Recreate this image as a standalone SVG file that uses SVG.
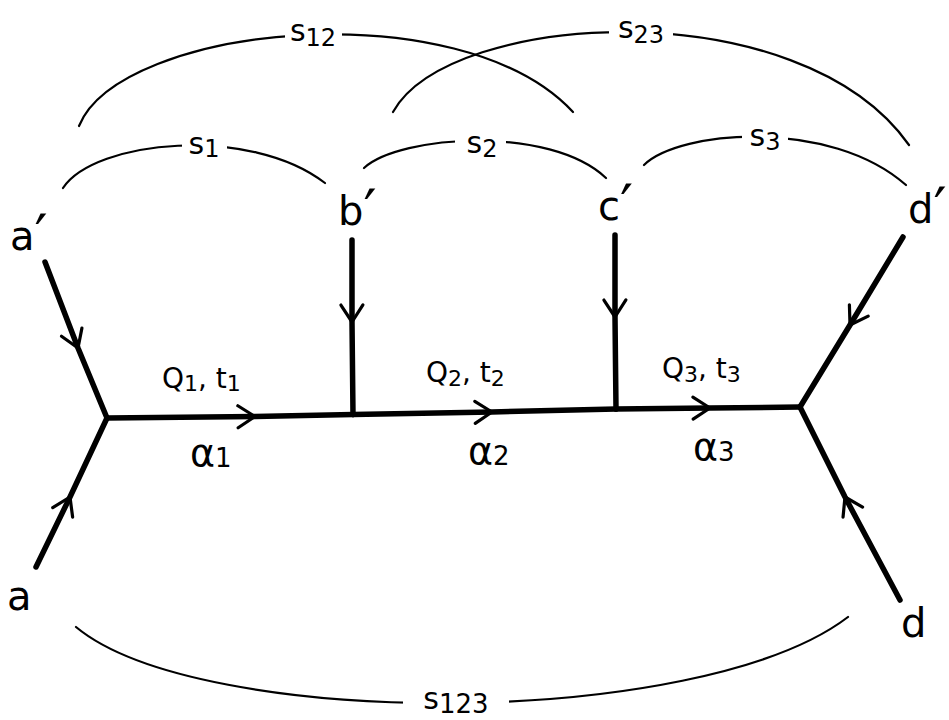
<svg xmlns="http://www.w3.org/2000/svg" width="949" height="720" viewBox="0 0 949 720">
<defs>
<style>
.thick{fill:none;stroke:#000;stroke-width:5.5;stroke-linecap:round;stroke-linejoin:round}
.arc{fill:none;stroke:#000;stroke-width:2.2;stroke-linecap:round}
.gap{fill:#fff}
.lbl{font-family:"DejaVu Sans","Liberation Sans",sans-serif;fill:#000}
.node{font-size:40px}
.pr{font-size:58px}
.flow{font-size:28px}
.alpha{font-size:38px}
.s{font-size:30px}
</style>
<marker id="v" markerWidth="40" markerHeight="40" refX="0" refY="0" viewBox="-20 -20 40 40" orient="auto" markerUnits="userSpaceOnUse">
<path d="M-17,-11 L0,0 L-17,11" fill="none" stroke="#000" stroke-width="3.2" stroke-linecap="round" stroke-linejoin="round"/>
</marker>
</defs>
<rect width="949" height="720" fill="#fff"/>
<g id="connectors">
<path class="thick" d="M45,262 L78,348 L107,418" marker-mid="url(#v)"/>
<path class="thick" d="M36,567 L70,497 L107,418" marker-mid="url(#v)"/>
<path class="thick" d="M107,418 L255,416.5 L353,414.5" marker-mid="url(#v)"/>
<path class="thick" d="M353,414.5 L492,412 L616,409" marker-mid="url(#v)"/>
<path class="thick" d="M616,409 L710,408 L800,407" marker-mid="url(#v)"/>
<path class="thick" d="M352,240 L352,322 L353,414.5" marker-mid="url(#v)"/>
<path class="thick" d="M615,235 L615,317 L616,409" marker-mid="url(#v)"/>
<path class="thick" d="M903,237 L850,325 L800,407" marker-mid="url(#v)"/>
<path class="thick" d="M900,600 L845,497 L800,407" marker-mid="url(#v)"/>
</g>
<g id="arcs">
<path class="arc" d="M63,188 C95,140 250,125 325,183"/>
<path class="arc" d="M364,168 C400,135 550,125 606,178"/>
<path class="arc" d="M644,165 C680,130 830,118 906,185"/>
<path class="arc" d="M79,126 C120,25 460,-10 573,112"/>
<path class="arc" d="M393,112 C450,10 800,-10 909,145"/>
<path class="arc" d="M76,627 C200,730 700,730 848,617"/>
</g>
<g id="arc-labels">
<rect class="gap" x="182" y="126" width="45" height="38"/>
<rect class="gap" x="455" y="124" width="51" height="38"/>
<rect class="gap" x="742" y="118" width="46" height="36"/>
<rect class="gap" x="285" y="12" width="57" height="42"/>
<rect class="gap" x="609" y="8" width="64" height="42"/>
<rect class="gap" x="403" y="680" width="106" height="38"/>
<text class="lbl s" x="204" y="154" text-anchor="middle">s<tspan font-size="24" dy="3">1</tspan></text>
<text class="lbl s" x="482" y="153" text-anchor="middle">s<tspan font-size="24" dy="4">2</tspan></text>
<text class="lbl s" x="765" y="146" text-anchor="middle">s<tspan font-size="24" dy="4">3</tspan></text>
<text class="lbl s" x="313" y="41" text-anchor="middle">s<tspan font-size="24" dy="5">12</tspan></text>
<text class="lbl s" x="641" y="38" text-anchor="middle">s<tspan font-size="24" dy="5">23</tspan></text>
<text class="lbl s" x="456" y="709" text-anchor="middle">s<tspan font-size="26" dy="4">123</tspan></text>
</g>
<g id="node-a-prime"><text class="lbl node" x="10" y="250">a<tspan class="pr" dy="6">′</tspan></text></g>
<g id="node-b-prime"><text class="lbl node" x="338" y="225">b<tspan class="pr" dy="6">′</tspan></text></g>
<g id="node-c-prime"><text class="lbl node" x="598" y="220">c<tspan class="pr" dy="6">′</tspan></text></g>
<g id="node-d-prime"><text class="lbl node" x="908" y="223">d<tspan class="pr" dy="6">′</tspan></text></g>
<g id="node-a"><text class="lbl node" x="7" y="610">a</text></g>
<g id="node-d"><text class="lbl node" x="901" y="637">d</text></g>
<g id="edge-labels">
<text class="lbl flow" x="162" y="388">Q<tspan font-size="22" dy="3">1</tspan><tspan dy="-3">, t</tspan><tspan font-size="22" dy="3">1</tspan></text>
<text class="lbl alpha" x="190" y="466">α<tspan font-size="26" dy="1">1</tspan></text>
<text class="lbl flow" x="426" y="382">Q<tspan font-size="22" dy="4">2</tspan><tspan dy="-4">, t</tspan><tspan font-size="22" dy="4">2</tspan></text>
<text class="lbl alpha" x="468" y="464">α<tspan font-size="26" dy="1">2</tspan></text>
<text class="lbl flow" x="662" y="378">Q<tspan font-size="22" dy="4">3</tspan><tspan dy="-4">, t</tspan><tspan font-size="22" dy="4">3</tspan></text>
<text class="lbl alpha" x="693" y="460">α<tspan font-size="26" dy="1">3</tspan></text>
</g>
</svg>
